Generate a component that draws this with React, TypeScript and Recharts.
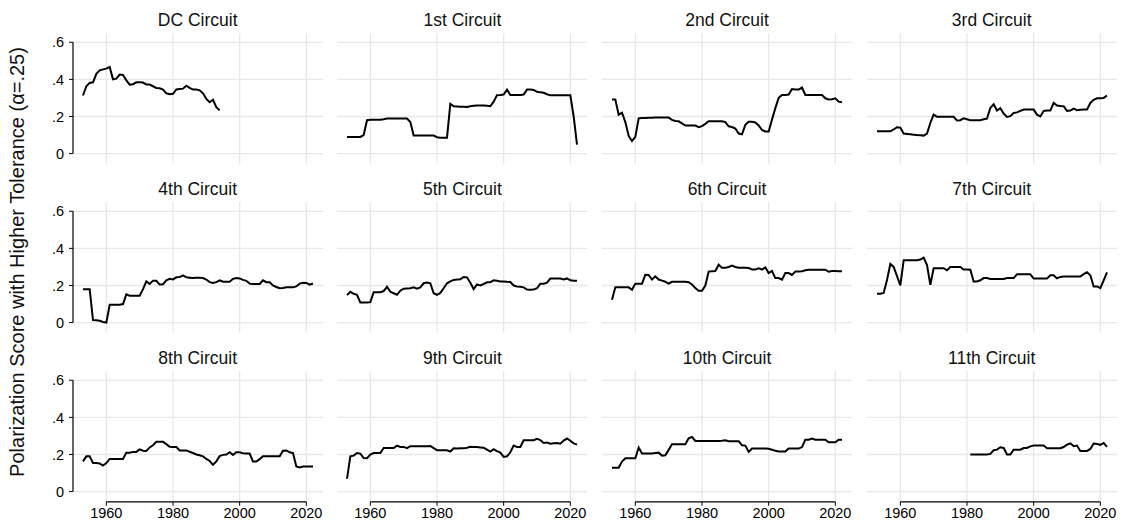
import { LineChart, Line, XAxis, YAxis, ReferenceLine } from "recharts";

const FONT = '"Liberation Sans", Arial, Helvetica, sans-serif';

// panel titles, in reading order
const circuits = [
  "DC Circuit", "1st Circuit", "2nd Circuit", "3rd Circuit",
  "4th Circuit", "5th Circuit", "6th Circuit", "7th Circuit",
  "8th Circuit", "9th Circuit", "10th Circuit", "11th Circuit",
];

// first year of each series (one value per year after that)
const firstYear = [1953, 1953, 1953, 1953, 1953, 1953, 1953, 1953, 1953, 1953, 1953, 1981];

const dcCircuit = [
  0.313, 0.363, 0.381, 0.384, 0.43, 0.449, 0.454, 0.458, 0.467, 0.4,
  0.404, 0.426, 0.424, 0.395, 0.372, 0.374, 0.384, 0.385, 0.383, 0.373,
  0.372, 0.363, 0.354, 0.352, 0.345, 0.325, 0.32, 0.322, 0.346, 0.348,
  0.35, 0.366, 0.354, 0.345, 0.345, 0.341, 0.325, 0.295, 0.277, 0.29,
  0.25, 0.233,
];
const circuit1 = [
  0.09, 0.09, 0.09, 0.09, 0.09, 0.1, 0.18, 0.183, 0.183, 0.183,
  0.183, 0.185, 0.189, 0.189, 0.189, 0.189, 0.189, 0.189, 0.189, 0.17,
  0.097, 0.097, 0.097, 0.097, 0.097, 0.097, 0.097, 0.088, 0.086, 0.086,
  0.086, 0.268, 0.255, 0.254, 0.253, 0.252, 0.251, 0.255, 0.258, 0.259,
  0.259, 0.259, 0.258, 0.255, 0.28, 0.315, 0.316, 0.318, 0.345, 0.316,
  0.316, 0.316, 0.316, 0.318, 0.345, 0.345, 0.343, 0.333, 0.33, 0.328,
  0.32, 0.314, 0.314, 0.314, 0.314, 0.314, 0.314, 0.314, 0.2, 0.048,
];
const circuit2 = [
  0.291, 0.291, 0.21, 0.22, 0.17, 0.095, 0.068, 0.09, 0.19, 0.192,
  0.192, 0.193, 0.193, 0.194, 0.194, 0.194, 0.194, 0.194, 0.182, 0.176,
  0.174, 0.163, 0.151, 0.151, 0.151, 0.151, 0.142, 0.148, 0.16, 0.174,
  0.174, 0.174, 0.174, 0.174, 0.17, 0.147, 0.143, 0.135, 0.108, 0.104,
  0.155, 0.172, 0.172, 0.168, 0.152, 0.127, 0.119, 0.119, 0.183, 0.245,
  0.3, 0.316, 0.316, 0.318, 0.348, 0.346, 0.345, 0.356, 0.316, 0.316,
  0.316, 0.316, 0.316, 0.316, 0.298, 0.292, 0.293, 0.298, 0.28, 0.277,
];
const circuit3 = [
  0.12, 0.12, 0.12, 0.12, 0.12, 0.13, 0.142, 0.14, 0.108, 0.106,
  0.104, 0.102, 0.1, 0.099, 0.097, 0.108, 0.165, 0.21, 0.198, 0.198,
  0.198, 0.198, 0.198, 0.198, 0.178, 0.18, 0.19, 0.185, 0.18, 0.18,
  0.18, 0.18, 0.185, 0.189, 0.246, 0.266, 0.232, 0.245, 0.216, 0.198,
  0.202, 0.219, 0.222, 0.23, 0.237, 0.237, 0.237, 0.237, 0.21, 0.2,
  0.23, 0.232, 0.232, 0.273, 0.259, 0.256, 0.255, 0.23, 0.232, 0.242,
  0.234, 0.236, 0.237, 0.237, 0.273, 0.29, 0.298, 0.298, 0.3, 0.313,
];
const circuit4 = [
  0.18, 0.18, 0.18, 0.014, 0.012, 0.01, 0.003, 0, 0.096, 0.096,
  0.096, 0.096, 0.1, 0.152, 0.145, 0.145, 0.145, 0.145, 0.18, 0.222,
  0.208, 0.226, 0.225, 0.205, 0.207, 0.228, 0.236, 0.233, 0.244, 0.245,
  0.255, 0.244, 0.242, 0.24, 0.242, 0.242, 0.24, 0.232, 0.218, 0.213,
  0.218, 0.228, 0.22, 0.22, 0.22, 0.236, 0.24, 0.238, 0.23, 0.225,
  0.21, 0.208, 0.208, 0.208, 0.228, 0.218, 0.217, 0.2, 0.192, 0.185,
  0.186, 0.19, 0.19, 0.19, 0.195, 0.21, 0.215, 0.214, 0.204, 0.211,
];
const circuit5 = [
  0.148, 0.166, 0.155, 0.15, 0.108, 0.108, 0.108, 0.11, 0.164, 0.164,
  0.164, 0.17, 0.193, 0.166, 0.158, 0.15, 0.172, 0.183, 0.184, 0.185,
  0.19, 0.183, 0.19, 0.212, 0.216, 0.212, 0.158, 0.15, 0.16, 0.185,
  0.212, 0.222, 0.23, 0.232, 0.233, 0.246, 0.244, 0.215, 0.181, 0.206,
  0.2, 0.208, 0.217, 0.218, 0.228, 0.225, 0.222, 0.222, 0.22, 0.219,
  0.2, 0.195, 0.193, 0.19, 0.178, 0.177, 0.178, 0.185, 0.21, 0.21,
  0.215, 0.237, 0.237, 0.237, 0.237, 0.232, 0.238, 0.228, 0.226, 0.226,
];
const circuit6 = [
  0.123, 0.19, 0.19, 0.19, 0.19, 0.19, 0.177, 0.21, 0.21, 0.21,
  0.258, 0.257, 0.232, 0.249, 0.232, 0.226, 0.22, 0.21, 0.22, 0.22,
  0.22, 0.22, 0.22, 0.218, 0.205, 0.186, 0.172, 0.172, 0.2, 0.275,
  0.277, 0.278, 0.312, 0.295, 0.295, 0.3, 0.307, 0.3, 0.296, 0.296,
  0.296, 0.294, 0.286, 0.286, 0.292, 0.286, 0.298, 0.267, 0.278, 0.24,
  0.24, 0.231, 0.267, 0.267, 0.257, 0.275, 0.275, 0.277, 0.282, 0.285,
  0.285, 0.285, 0.285, 0.285, 0.285, 0.274, 0.278, 0.278, 0.277, 0.277,
];
const circuit7 = [
  0.155, 0.155, 0.16, 0.23, 0.316, 0.3, 0.25, 0.2, 0.336, 0.336,
  0.336, 0.336, 0.336, 0.34, 0.35, 0.31, 0.204, 0.293, 0.293, 0.293,
  0.293, 0.282, 0.3, 0.3, 0.3, 0.3, 0.286, 0.286, 0.285, 0.222,
  0.222, 0.228, 0.24, 0.24, 0.235, 0.235, 0.235, 0.235, 0.235, 0.24,
  0.24, 0.24, 0.26, 0.26, 0.26, 0.26, 0.26, 0.237, 0.237, 0.237,
  0.237, 0.237, 0.255, 0.255, 0.238, 0.246, 0.248, 0.248, 0.248, 0.248,
  0.248, 0.248, 0.262, 0.271, 0.255, 0.195, 0.195, 0.186, 0.228, 0.271,
];
const circuit8 = [
  0.163, 0.19, 0.19, 0.154, 0.154, 0.152, 0.14, 0.154, 0.176, 0.176,
  0.176, 0.176, 0.176, 0.21, 0.21, 0.214, 0.214, 0.228, 0.22, 0.219,
  0.238, 0.25, 0.268, 0.268, 0.268, 0.256, 0.242, 0.24, 0.24, 0.222,
  0.222, 0.222, 0.215, 0.208, 0.2, 0.196, 0.19, 0.176, 0.165, 0.144,
  0.163, 0.192, 0.198, 0.2, 0.212, 0.198, 0.212, 0.212, 0.206, 0.205,
  0.205, 0.162, 0.162, 0.175, 0.19, 0.19, 0.19, 0.19, 0.19, 0.19,
  0.22, 0.222, 0.212, 0.208, 0.135, 0.13, 0.135, 0.135, 0.135, 0.135,
];
const circuit9 = [
  0.068, 0.19, 0.194, 0.208, 0.205, 0.181, 0.18, 0.2, 0.208, 0.208,
  0.208, 0.235, 0.235, 0.235, 0.235, 0.248, 0.241, 0.241, 0.234, 0.245,
  0.245, 0.245, 0.245, 0.245, 0.245, 0.246, 0.234, 0.223, 0.223, 0.223,
  0.223, 0.216, 0.234, 0.232, 0.233, 0.233, 0.236, 0.241, 0.24, 0.24,
  0.238, 0.236, 0.226, 0.216, 0.228, 0.218, 0.21, 0.187, 0.19, 0.212,
  0.248, 0.241, 0.241, 0.277, 0.277, 0.277, 0.277, 0.284, 0.278, 0.262,
  0.264, 0.258, 0.26, 0.262, 0.258, 0.275, 0.286, 0.274, 0.26, 0.253,
];
const circuit10 = [
  0.129, 0.129, 0.129, 0.162, 0.18, 0.18, 0.18, 0.18, 0.237, 0.205,
  0.205, 0.205, 0.205, 0.208, 0.21, 0.194, 0.196, 0.225, 0.255, 0.255,
  0.255, 0.255, 0.255, 0.287, 0.295, 0.273, 0.273, 0.273, 0.273, 0.273,
  0.273, 0.273, 0.273, 0.274, 0.277, 0.272, 0.272, 0.272, 0.272, 0.25,
  0.248, 0.214, 0.232, 0.232, 0.232, 0.232, 0.232, 0.231, 0.226, 0.22,
  0.216, 0.216, 0.216, 0.232, 0.232, 0.232, 0.232, 0.24, 0.28, 0.28,
  0.286, 0.28, 0.28, 0.28, 0.28, 0.266, 0.266, 0.266, 0.28, 0.28,
];
const circuit11 = [
  0.2, 0.2, 0.2, 0.2, 0.2, 0.2, 0.203, 0.223, 0.226, 0.239,
  0.235, 0.2, 0.2, 0.226, 0.226, 0.226, 0.235, 0.235, 0.244, 0.248,
  0.248, 0.248, 0.248, 0.234, 0.234, 0.234, 0.234, 0.234, 0.24, 0.253,
  0.26, 0.245, 0.248, 0.219, 0.219, 0.219, 0.23, 0.259, 0.256, 0.252,
  0.262, 0.241,
];

const series = [
  dcCircuit, circuit1, circuit2, circuit3,
  circuit4, circuit5, circuit6, circuit7,
  circuit8, circuit9, circuit10, circuit11,
];

const xTicks = [1960, 1980, 2000, 2020];
const yTicks = [0, 0.2, 0.4, 0.6];

// layout (px)
const PLOT_W = 250;
const PLOT_H = 130.8;
const COL_STEP = 264.67;
const ROW_STEP = 169;
const LEFT0 = 72.7;
const TOP0 = 33.4;
const Y_AXIS_W = 40;
const X_AXIS_H = 30;
const GRID = "#e8e8e8";

const fmtY = (v: number) => (v === 0 ? "0" : String(v).replace("0.", "."));

function Panel({ idx }: { idx: number }) {
  const row = Math.floor(idx / 4);
  const col = idx % 4;
  const showY = col === 0;
  const showX = row === 2;
  const data = series[idx].map((v, i) => ({ year: firstYear[idx] + i, score: v }));
  const plotLeft = LEFT0 + col * COL_STEP;
  const plotTop = TOP0 + row * ROW_STEP;
  const w = PLOT_W + (showY ? Y_AXIS_W : 0);
  const h = PLOT_H + (showX ? X_AXIS_H : 0);

  return (
    <>
      <div
        style={{
          position: "absolute",
          left: plotLeft,
          top: 9.65 + row * ROW_STEP,
          width: PLOT_W,
          height: 20,
          lineHeight: "20px",
          textAlign: "center",
          fontSize: 17.5,
          fontFamily: FONT,
          color: "#111",
          whiteSpace: "nowrap",
        }}
      >
        {circuits[idx]}
      </div>
      <div style={{ position: "absolute", left: plotLeft - (showY ? Y_AXIS_W : 0), top: plotTop }}>
        <LineChart width={w} height={h} data={data} margin={{ top: 0, right: 0, bottom: 0, left: 0 }}>
          <XAxis
            type="number"
            dataKey="year"
            domain={[1950, 2025]}
            ticks={xTicks}
            interval={0}
            hide={!showX}
            height={X_AXIS_H}
            axisLine={false}
            tickLine={{ stroke: "#000" }}
            tickSize={4}
            tickMargin={2}
            tick={{ fill: "#000", fontSize: 14.5, fontFamily: FONT }}
          />
          <YAxis
            type="number"
            domain={[-0.055, 0.65]}
            ticks={yTicks}
            interval={0}
            hide={!showY}
            width={Y_AXIS_W}
            axisLine={false}
            tickLine={{ stroke: "#000" }}
            tickSize={4}
            tickMargin={5}
            tickFormatter={fmtY}
            tick={{ fill: "#000", fontSize: 14.5, fontFamily: FONT }}
          />
          {xTicks.map((t) => (
            <ReferenceLine key={"x" + t} x={t} stroke={GRID} strokeWidth={1.3} />
          ))}
          {yTicks.map((t) => (
            <ReferenceLine key={"y" + t} y={t} stroke={GRID} strokeWidth={1.3} />
          ))}
          {showY && (
            <ReferenceLine
              segment={[{ x: 1950, y: 0 }, { x: 1950, y: 0.6 }]}
              stroke="#000"
              strokeWidth={1.2}
            />
          )}
          {showX && (
            <ReferenceLine
              segment={[{ x: 1960, y: -0.055 }, { x: 2020, y: -0.055 }]}
              stroke="#000"
              strokeWidth={1.2}
            />
          )}
          <Line
            type="linear"
            dataKey="score"
            stroke="#000"
            strokeWidth={2}
            dot={false}
            isAnimationActive={false}
          />
        </LineChart>
      </div>
    </>
  );
}

export default function App() {
  return (
    <div
      style={{
        position: "absolute",
        left: 0,
        top: 0,
        width: 1124,
        height: 532,
        background: "#fff",
        overflow: "hidden",
      }}
    >
      <div
        style={{
          position: "absolute",
          left: 17 - 250,
          top: 262 - 12,
          width: 500,
          height: 24,
          lineHeight: "24px",
          textAlign: "center",
          fontSize: 20,
          fontFamily: FONT,
          color: "#111",
          whiteSpace: "nowrap",
          transform: "rotate(-90deg)",
        }}
      >
        Polarization Score with Higher Tolerance (α=.25)
      </div>
      {circuits.map((_, i) => (
        <Panel key={i} idx={i} />
      ))}
    </div>
  );
}
